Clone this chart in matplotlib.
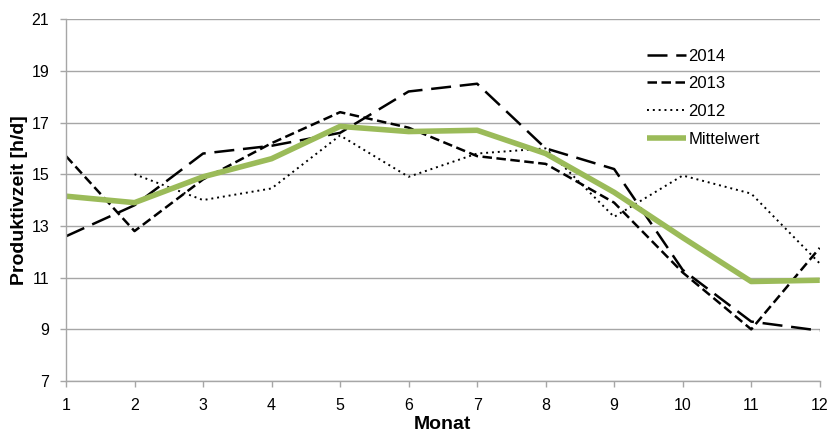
import matplotlib
matplotlib.use("Agg")
import matplotlib.pyplot as plt

plt.rcParams['font.family'] = ['Liberation Sans', 'DejaVu Sans']

# Daten
monate = list(range(1, 13))
werte_2014 = [12.6, 13.8, 15.8, 16.1, 16.6, 18.2, 18.5, 16.0, 15.2, 11.3, 9.3, 8.95]
werte_2013 = [15.7, 12.8, 14.8, 16.2, 17.4, 16.8, 15.7, 15.4, 13.9, 11.2, 9.0, 12.15]
monate_2012 = list(range(2, 13))
werte_2012 = [15.0, 14.0, 14.45, 16.5, 14.9, 15.8, 16.0, 13.35, 14.95, 14.25, 11.55]
mittelwert = [14.15, 13.9, 14.9, 15.6, 16.85, 16.65, 16.7, 15.8, 14.3, 12.55, 10.85, 10.9]
y_ticks = [7, 9, 11, 13, 15, 17, 19, 21]

fig = plt.figure(figsize=(8.28, 4.34), dpi=100)
ax = fig.add_axes([0.0797, 0.122, 0.9103, 0.834])

ax.plot(monate, werte_2014, color='black', lw=1.8, dashes=(8, 3.5), label='2014')
ax.plot(monate, werte_2013, color='black', lw=1.8, dashes=(3.8, 1.8), label='2013')
ax.plot(monate_2012, werte_2012, color='black', lw=1.4, dashes=(1, 2), label='2012')
ax.plot(monate, mittelwert, color='#9BBB59', lw=4, solid_capstyle='butt', label='Mittelwert')

ax.set_xlim(1, 12)
ax.set_ylim(7, 21)
ax.set_xticks(monate)
ax.set_yticks(y_ticks)
ax.yaxis.grid(True, color='#a6a6a6', lw=1)
ax.set_axisbelow(True)

for s in ['top', 'right']:
    ax.spines[s].set_visible(False)
for s in ['left', 'bottom']:
    ax.spines[s].set_color('#a6a6a6')
    ax.spines[s].set_linewidth(1)
ax.tick_params(axis='both', colors='#a6a6a6', labelcolor='black', labelsize=11.5, length=4, width=1)
ax.tick_params(axis='y', length=4, pad=8)
ax.tick_params(axis='x', pad=8)

ax.set_xlabel('Monat', fontsize=14, fontweight='bold')
ax.set_ylabel('Produktivzeit [h/d]', fontsize=14, fontweight='bold')
ax.xaxis.set_label_coords(0.5, -0.097)
ax.yaxis.set_label_coords(-0.05, 0.5)

leg = ax.legend(loc='upper left', bbox_to_anchor=(0.751, 0.96), frameon=False, fontsize=12,
                handlelength=2.35, handletextpad=0.12, labelspacing=0.76)

fig.savefig('out.png', dpi=100)
